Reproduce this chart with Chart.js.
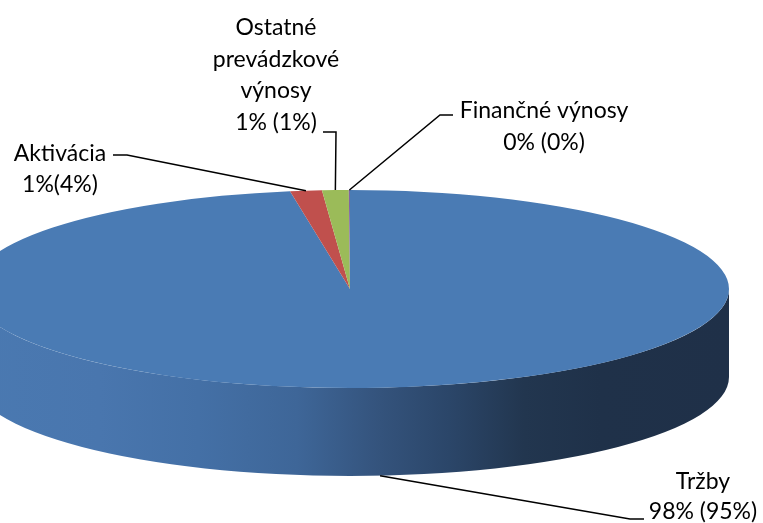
<!DOCTYPE html>
<html lang="sk">
<head>
<meta charset="utf-8">
<title>Výnosy</title>
<script src="https://cdn.jsdelivr.net/npm/chart.js@4.4.1/dist/chart.umd.min.js"></script>
<style>
  html, body { margin: 0; padding: 0; background: #fff; }
  #graf { display: block; }
</style>
</head>
<body>
<canvas id="graf" width="763" height="523"></canvas>
<script>
const kategorie = ['Tržby', 'Aktivácia', 'Ostatné prevádzkové výnosy', 'Finančné výnosy'];
const hodnoty = [97.5, 1.35, 1.13, 0.05];
const popisky = ['98% (95%)', '1%(4%)', '1% (1%)', '0% (0%)'];
// názvy rozdelené do riadkov ako v pôvodnom grafe
const nazvyRiadky = [['Tržby'], ['Aktivácia'], ['Ostatné', 'prevádzkové', 'výnosy'], ['Finančné výnosy']];

const farby = ['#4a7bb4', '#c0504d', '#9bbb59', '#8064a2'];

// geometria "3D" koláča
const stred = { x: 350, y: 289 };
const polosA = 379, polosB = 99, hlbka = 88;

// umiestnenie popisov: stred textu x, prvý riadok (baseline), krok, lomená čiara
const rozlozenie = [
  { x: 703, y: 489, krok: 30, ciara: [[644, 519], [630, 519]], dole: true },
  { x: 60, y: 161, krok: 31, ciara: [[113, 155], [127, 155]] },
  { x: 276, y: 35, krok: 31.5, ciara: [[323, 132], [336, 132]] },
  { x: 544, y: 118, krok: 32, ciara: [[453, 115], [440, 115]] }
];

// prienik výseku s prednou polovicou (0..PI), tam je vidieť bočnú stenu
function prednaCast(s, e) {
    const vysl = [];
    for (let k = -1; k <= 1; k++) {
        const a = Math.max(s, 2 * Math.PI * k);
        const b = Math.min(e, Math.PI + 2 * Math.PI * k);
        if (b > a) vysl.push([a, b]);
    }
    return vysl;
}

function kotva(arc, dole) {
    const t = (arc.startAngle + arc.endAngle) / 2;
    return {
        x: stred.x + polosA * Math.cos(t),
        y: stred.y + polosB * Math.sin(t) + (dole ? hlbka : 0)
    };
}

const pie3d = {
    id: 'pie3d',
    beforeDatasetsDraw(chart) {
        const ctx = chart.ctx;
        const arcs = chart.getDatasetMeta(0).data;

        const grad = ctx.createLinearGradient(stred.x - polosA, 0, stred.x + polosA, 0);
        grad.addColorStop(0, '#4a79b1');
        grad.addColorStop(0.17, '#4976ae');
        grad.addColorStop(0.30, '#4470a6');
        grad.addColorStop(0.43, '#3e6698');
        grad.addColorStop(0.54, '#34537c');
        grad.addColorStop(0.63, '#2b4669');
        grad.addColorStop(0.73, '#22364f');
        grad.addColorStop(0.83, '#1f3149');
        grad.addColorStop(1, '#1f3048');

        arcs.forEach((arc, i) => {
            prednaCast(arc.startAngle, arc.endAngle).forEach(([t0, t1]) => {
                ctx.beginPath();
                ctx.ellipse(stred.x, stred.y, polosA, polosB, 0, t0, t1);
                ctx.ellipse(stred.x, stred.y + hlbka, polosA, polosB, 0, t1, t0, true);
                ctx.closePath();
                ctx.fillStyle = i === 0 ? grad : farby[i];
                ctx.fill();
            });
        });

        // vrchná plocha = bežný koláč stlačený do elipsy
        const a0 = arcs[0];
        const r = a0.outerRadius;
        ctx.save();
        ctx.translate(stred.x, stred.y);
        ctx.scale(polosA / r, polosB / r);
        ctx.translate(-a0.x, -a0.y);
    },
    afterDatasetsDraw(chart) {
        chart.ctx.restore();
    },
    afterDraw(chart) {
        const ctx = chart.ctx;
        const arcs = chart.getDatasetMeta(0).data;
        ctx.save();
        ctx.strokeStyle = '#000';
        ctx.lineWidth = 1.5;
        ctx.fillStyle = '#000';
        ctx.font = '23px Lato';
        ctx.textAlign = 'center';
        ctx.textBaseline = 'alphabetic';

        kategorie.forEach((kat, i) => {
            const l = rozlozenie[i];
            const k = kotva(arcs[i], l.dole);
            ctx.beginPath();
            ctx.moveTo(l.ciara[0][0], l.ciara[0][1]);
            ctx.lineTo(l.ciara[1][0], l.ciara[1][1]);
            ctx.lineTo(k.x, k.y);
            ctx.stroke();

            const texty = nazvyRiadky[i].concat([popisky[i]]);
            texty.forEach((t, j) => ctx.fillText(t, l.x, l.y + j * l.krok));
        });
        ctx.restore();
    }
};

new Chart(document.getElementById('graf'), {
    type: 'pie',
    data: {
        labels: kategorie,
        datasets: [{
            data: hodnoty,
            backgroundColor: farby,
            borderWidth: 0,
            clip: false
        }]
    },
    options: {
        responsive: false,
        animation: false,
        devicePixelRatio: 1,
        events: [],
        layout: { padding: 0 },
        plugins: {
            legend: { display: false },
            tooltip: { enabled: false }
        }
    },
    plugins: [pie3d]
});
</script>
</body>
</html>
